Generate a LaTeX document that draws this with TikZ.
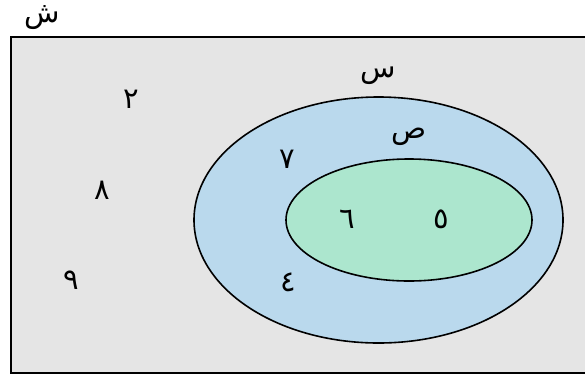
\documentclass[tikz,border=0pt]{standalone}
\usepackage{fontspec}
\newfontfamily\arabicfont[Script=Arabic]{DejaVu Sans}
\TeXXeTstate=1
\usepackage{tikz}
\usetikzlibrary{positioning}

\definecolor{unigrey}{RGB}{229,229,229}
\definecolor{setblue}{RGB}{186,217,237}
\definecolor{setgreen}{RGB}{172,230,206}

\begin{document}
\begin{tikzpicture}[
    x=1pt, y=-1pt,
    lbl/.style={font=\arabicfont\fontsize{29}{32}\selectfont, inner sep=0pt},
    setline/.style={draw=black, line width=1.6pt}
]
    \clip (0,0) rectangle (585,378);
    % universe
    \draw [setline, fill=unigrey] (11,37) rectangle (590,373);
    \node [lbl] (U) at (42,18) {\beginR ش\endR};

    % sets
    \draw [setline, fill=setblue] (378.5,220) ellipse [x radius=184.5, y radius=123];
    \draw [setline, fill=setgreen] (409,220) ellipse [x radius=123, y radius=61];
    \node [lbl] (X) at (378,76) {\beginR س\endR};
    \node [lbl] (Y) at (409,137) {\beginR ص\endR};

    % elements
    \node [lbl] (e2) at (131,99) {\beginR ٢\endR};
    \node [lbl] (e8) at (102,190) {\beginR ٨\endR};
    \node [lbl] (e9) at (71,280) {\beginR ٩\endR};
    \node [lbl] (e7) at (287,159) {\beginR ٧\endR};
    \node [lbl] (e4) at (288,282) {\beginR ٤\endR};
    \node [lbl] (e6) at (347,219) {\beginR ٦\endR};
    \node [lbl] (e5) at (441,219) {\beginR ٥\endR};
\end{tikzpicture}
\end{document}
